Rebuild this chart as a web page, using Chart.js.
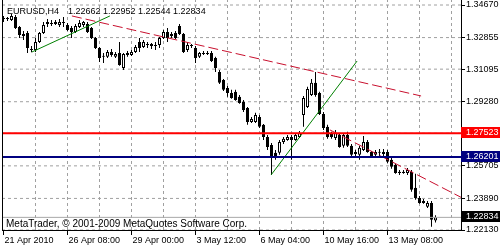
<!DOCTYPE html>
<html lang="en">
<head>
    <meta charset="UTF-8">
    <title>EURUSD,H4</title>
    <script src="https://cdn.jsdelivr.net/npm/chart.js"></script>
    <style>
        html, body { margin: 0; padding: 0; background: #fff; }
        #chart { display: block; }
    </style>
</head>
<body>
    <canvas id="chart" width="500" height="250"></canvas>
    <script>
        const symbol = 'EURUSD,H4';
        const copyright = 'MetaTrader, \u00a9 2001-2009 MetaQuotes Software Corp.';

        // H4 candles, one per bar index 0..108
        const opens = [
            1.3389, 1.3391, 1.3384, 1.3400, 1.3345, 1.3294, 1.3311, 1.3222, 1.3216, 1.3261,
            1.3311, 1.3361, 1.3367, 1.3361, 1.3356, 1.3372, 1.3356, 1.3339, 1.3317, 1.3345,
            1.3356, 1.3361, 1.3339, 1.3283, 1.3228, 1.3178, 1.3178, 1.3205, 1.3178, 1.3200,
            1.3116, 1.3189, 1.3189, 1.3205, 1.3261, 1.3233, 1.3244, 1.3250, 1.3239, 1.3244,
            1.3283, 1.3317, 1.3294, 1.3311, 1.3350, 1.3306, 1.3216, 1.3244, 1.3228, 1.3178,
            1.3200, 1.3194, 1.3200, 1.3172, 1.3094, 1.3049, 1.3005, 1.2977, 1.2983, 1.2955,
            1.2927, 1.2893, 1.2815, 1.2815, 1.2843, 1.2799, 1.2732, 1.2687, 1.2643, 1.2643,
            1.2704, 1.2715, 1.2732, 1.2715, 1.2732, 1.2854, 1.2899, 1.2966, 1.3033, 1.2977,
            1.2860, 1.2788, 1.2749, 1.2726, 1.2743, 1.2682, 1.2743, 1.2682, 1.2648, 1.2632,
            1.2659, 1.2704, 1.2648, 1.2632, 1.2643, 1.2648, 1.2648, 1.2604, 1.2576, 1.2537,
            1.2531, 1.2531, 1.2537, 1.2448, 1.2392, 1.2375, 1.2342, 1.2364, 1.22662
        ];
        const highs = [
            1.3406, 1.3400, 1.3417, 1.3411, 1.3350, 1.3322, 1.3322, 1.3239, 1.3283, 1.3317,
            1.3372, 1.3389, 1.3384, 1.3384, 1.3389, 1.3400, 1.3367, 1.3350, 1.3361, 1.3384,
            1.3378, 1.3372, 1.3345, 1.3289, 1.3233, 1.3200, 1.3216, 1.3222, 1.3205, 1.3261,
            1.3200, 1.3211, 1.3216, 1.3244, 1.3283, 1.3272, 1.3261, 1.3255, 1.3261, 1.3289,
            1.3328, 1.3339, 1.3317, 1.3322, 1.3361, 1.3311, 1.3261, 1.3250, 1.3239, 1.3205,
            1.3211, 1.3211, 1.3211, 1.3178, 1.3105, 1.3055, 1.3016, 1.2994, 1.2994, 1.2966,
            1.2938, 1.2899, 1.2843, 1.2866, 1.2854, 1.2804, 1.2743, 1.2698, 1.2659, 1.2715,
            1.2732, 1.2743, 1.2743, 1.2754, 1.2765, 1.2960, 1.3011, 1.3055, 1.3094, 1.2983,
            1.2871, 1.2799, 1.2760, 1.2771, 1.2754, 1.2754, 1.2760, 1.2693, 1.2659, 1.2682,
            1.2737, 1.2715, 1.2654, 1.2659, 1.2665, 1.2665, 1.2659, 1.2615, 1.2582, 1.2548,
            1.2548, 1.2559, 1.2548, 1.2526, 1.2403, 1.2386, 1.2375, 1.2375, 1.22952
        ];
        const lows = [
            1.3372, 1.3378, 1.3378, 1.3333, 1.3283, 1.3272, 1.3200, 1.3203, 1.3205, 1.3255,
            1.3306, 1.3345, 1.3350, 1.3356, 1.3345, 1.3345, 1.3322, 1.3283, 1.3311, 1.3339,
            1.3345, 1.3311, 1.3278, 1.3222, 1.3150, 1.3144, 1.3172, 1.3178, 1.3172, 1.3128,
            1.3105, 1.3178, 1.3183, 1.3200, 1.3205, 1.3228, 1.3228, 1.3222, 1.3216, 1.3228,
            1.3278, 1.3261, 1.3283, 1.3278, 1.3300, 1.3200, 1.3205, 1.3228, 1.3144, 1.3172,
            1.3189, 1.3189, 1.3150, 1.3094, 1.3027, 1.2988, 1.2955, 1.2944, 1.2933, 1.2916,
            1.2871, 1.2799, 1.2810, 1.2810, 1.2782, 1.2715, 1.2659, 1.2520, 1.2604, 1.2632,
            1.2693, 1.2710, 1.2604, 1.2710, 1.2726, 1.2788, 1.2893, 1.2960, 1.2955, 1.2854,
            1.2771, 1.2721, 1.2721, 1.2715, 1.2671, 1.2671, 1.2676, 1.2615, 1.2626, 1.2604,
            1.2654, 1.2643, 1.2615, 1.2621, 1.2626, 1.2626, 1.2587, 1.2554, 1.2526, 1.2520,
            1.2526, 1.2520, 1.2426, 1.2381, 1.2359, 1.2359, 1.2336, 1.2231, 1.22544
        ];
        const closes = [
            1.3391, 1.3389, 1.3406, 1.3339, 1.3300, 1.3306, 1.3228, 1.3216, 1.3261, 1.3311,
            1.3356, 1.3372, 1.3361, 1.3372, 1.3372, 1.3367, 1.3328, 1.3317, 1.3350, 1.3367,
            1.3372, 1.3317, 1.3283, 1.3228, 1.3172, 1.3183, 1.3205, 1.3189, 1.3194, 1.3133,
            1.3194, 1.3200, 1.3205, 1.3233, 1.3228, 1.3261, 1.3250, 1.3239, 1.3244, 1.3283,
            1.3317, 1.3283, 1.3306, 1.3283, 1.3306, 1.3205, 1.3244, 1.3239, 1.3172, 1.3200,
            1.3194, 1.3200, 1.3155, 1.3116, 1.3033, 1.2994, 1.2977, 1.2949, 1.2938, 1.2921,
            1.2882, 1.2815, 1.2832, 1.2854, 1.2788, 1.2732, 1.2676, 1.2615, 1.2621, 1.2704,
            1.2721, 1.2732, 1.2715, 1.2743, 1.2754, 1.2949, 1.2999, 1.3033, 1.2966, 1.2860,
            1.2782, 1.2732, 1.2732, 1.2754, 1.2676, 1.2743, 1.2682, 1.2632, 1.2637, 1.2671,
            1.2704, 1.2648, 1.2621, 1.2648, 1.2648, 1.2637, 1.2593, 1.2565, 1.2531, 1.2531,
            1.2537, 1.2548, 1.2437, 1.2392, 1.2364, 1.2364, 1.2364, 1.2270, 1.22834
        ];

        // time axis: labelled bar indices and grid step (in bars)
        const xTickIndex = [0, 16, 32, 48, 64, 80, 96];
        const xTickLabels = ['21 Apr 2010', '26 Apr 08:00', '29 Apr 00:00', '3 May 12:00',
                             '6 May 04:00', '10 May 16:00', '13 May 08:00'];
        const xGridStep = 8;
        const xMin = -0.375, xMax = 114.375;

        // price axis
        const yTicks = [1.22130, 1.23890, 1.25705, 1.27520, 1.29280, 1.31095, 1.32855, 1.34670];
        const yMin = 1.22130, yMax = 1.34949;

        // objects on the chart
        const redLevel = 1.27523;
        const blueLevel = 1.26201;
        const bidLevel = closes[closes.length - 1];
        const redTrend1 = [[17.1, 1.3406], [104.4, 1.2960]];
        const redTrend2 = [[81.6, 1.2771], [114.4, 1.2395]];
        const greenTrend1 = [[7.1, 1.3205], [26.6, 1.3406]];
        const greenTrend2 = [[66.9, 1.2520], [88.4, 1.3155]];

        const FONT = '"Liberation Sans", Arial, sans-serif';
        const GRID = '#a0a0a0';
        const up = closes.map((c, i) => c >= opens[i]);
        const toPts = seg => seg.map(p => ({ x: p[0], y: p[1] }));
        const hLine = v => [{ x: xMin, y: v }, { x: xMax, y: v }];

        function lineSet(data, color, width, dash, order) {
            return {
                type: 'line', data: data, borderColor: color, borderWidth: width,
                borderDash: dash, pointRadius: 0, fill: false, tension: 0, order: order
            };
        }

        // grid as dashed line datasets through the scales
        const gridSets = [];
        for (let v = xGridStep; v <= xMax; v += xGridStep) {
            gridSets.push(lineSet([{ x: v, y: yMin }, { x: v, y: yMax }], GRID, 1, [3, 3], 5));
        }
        yTicks.forEach(v => gridSets.push(lineSet(hLine(v), GRID, 1, [3, 3], 5)));

        const mtOverlay = {
            id: 'mtOverlay',
            afterDraw(chart) {
                const ctx = chart.ctx;
                const area = chart.chartArea;
                const y = chart.scales.y;
                ctx.save();
                // left frame
                ctx.strokeStyle = '#000';
                ctx.lineWidth = 1;
                ctx.beginPath();
                ctx.moveTo(area.left + 0.5, area.top);
                ctx.lineTo(area.left + 0.5, area.bottom);
                ctx.stroke();

                // header
                const last = opens.length - 1;
                ctx.fillStyle = '#000';
                ctx.font = '9px ' + FONT;
                ctx.textBaseline = 'alphabetic';
                ctx.textAlign = 'left';
                ctx.fillText(symbol, 7, 14);
                const ohlc = [opens[last], highs[last], lows[last], closes[last]]
                    .map(v => v.toFixed(5)).join(' ');
                ctx.fillText(ohlc, 68, 14);

                // copyright
                ctx.font = '10px ' + FONT;
                ctx.fillText(copyright, 6, 227);

                // price labels on the right
                const labels = [[redLevel, '#ff0000'], [blueLevel, '#000080'], [bidLevel, '#000000']];
                ctx.font = '9px ' + FONT;
                ctx.textBaseline = 'middle';
                labels.forEach(([v, col]) => {
                    const py = Math.round(y.getPixelForValue(v)) - 1;
                    ctx.fillStyle = col;
                    ctx.fillRect(area.right, py - 5, chart.width - area.right, 11);
                    ctx.fillStyle = '#fff';
                    ctx.fillText(v.toFixed(5), area.right + 5, py + 0.5);
                });
                ctx.restore();
            }
        };

        new Chart(document.getElementById('chart'), {
            type: 'bar',
            data: {
                datasets: [
                    lineSet(hLine(redLevel), '#ff0000', 2, [], 0),
                    lineSet(hLine(blueLevel), '#000080', 2, [], 0),
                    lineSet(toPts(redTrend1), '#c8102e', 1, [10, 4], 0),
                    lineSet(toPts(redTrend2), '#c8102e', 1, [10, 4], 0),
                    lineSet(toPts(greenTrend1), '#008000', 1, [], 0),
                    lineSet(toPts(greenTrend2), '#008000', 1, [], 0),
                    lineSet(hLine(bidLevel), '#a8a8a8', 1, [], 1),
                    {
                        type: 'bar',
                        data: opens.map((o, i) => ({ x: i, y: [o, closes[i]] })),
                        backgroundColor: ctx => up[ctx.dataIndex] ? '#ffffff' : '#000000',
                        borderColor: '#000000',
                        borderWidth: 1,
                        borderSkipped: false,
                        barThickness: 3,
                        minBarLength: 1,
                        inflateAmount: 0,
                        grouped: false,
                        order: 2
                    },
                    {
                        type: 'bar',
                        data: lows.map((l, i) => ({ x: i, y: [l, highs[i]] })),
                        backgroundColor: '#000000',
                        borderWidth: 0,
                        barThickness: 1,
                        inflateAmount: 0,
                        grouped: false,
                        order: 3
                    },
                    ...gridSets
                ]
            },
            options: {
                responsive: false,
                animation: false,
                layout: { padding: { left: 2, top: 0, right: 0, bottom: 0 } },
                plugins: { legend: { display: false }, tooltip: { enabled: false } },
                scales: {
                    x: {
                        type: 'linear',
                        min: xMin,
                        max: xMax,
                        offset: false,
                        bounds: 'data',
                        afterBuildTicks: s => {
                            const t = [];
                            for (let v = 0; v <= xMax; v += xGridStep) t.push({ value: v });
                            s.ticks = t;
                        },
                        afterFit: s => {
                            s.height = 20;
                            s.paddingLeft = 0;
                            s.paddingRight = 0;
                        },
                        grid: {
                            offset: false,
                            drawOnChartArea: false,
                            tickLength: 5,
                            tickColor: ctx => (ctx.tick && xTickIndex.includes(ctx.tick.value)) ? '#000' : 'rgba(0,0,0,0)'
                        },
                        border: { color: '#000' },
                        ticks: {
                            autoSkip: false,
                            maxRotation: 0,
                            align: 'start',
                            labelOffset: 1,
                            padding: 0,
                            color: '#000',
                            font: { family: FONT, size: 9 },
                            callback: v => {
                                const k = xTickIndex.indexOf(v);
                                return k >= 0 ? xTickLabels[k] : '';
                            }
                        }
                    },
                    y: {
                        type: 'linear',
                        position: 'right',
                        min: yMin,
                        max: yMax,
                        bounds: 'data',
                        afterBuildTicks: s => { s.ticks = yTicks.map(v => ({ value: v })); },
                        afterFit: s => {
                            s.width = 39;
                            s.paddingTop = 0;
                            s.paddingBottom = 0;
                        },
                        grid: { drawOnChartArea: false, tickLength: 4, tickColor: '#000' },
                        border: { color: '#000' },
                        ticks: {
                            autoSkip: false,
                            padding: 1,
                            color: '#000',
                            font: { family: FONT, size: 9 },
                            callback: v => v.toFixed(5)
                        }
                    }
                }
            },
            plugins: [mtOverlay]
        });
    </script>
</body>
</html>
